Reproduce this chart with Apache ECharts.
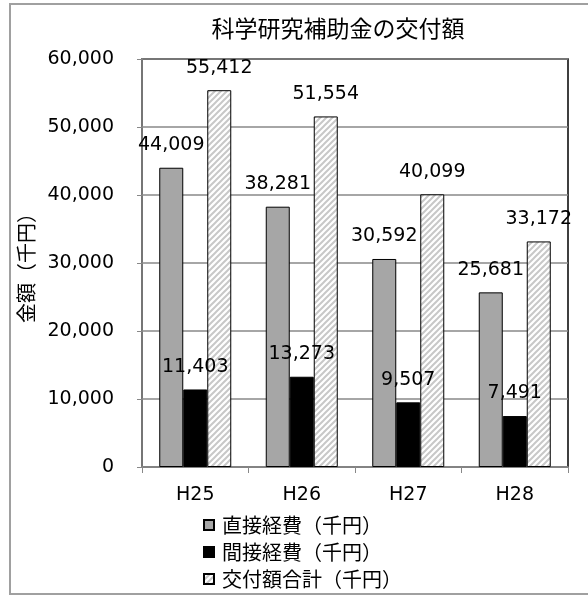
<!DOCTYPE html>
<html>
<head>
<meta charset="utf-8">
<script src="https://cdn.jsdelivr.net/npm/echarts@6/dist/echarts.min.js"></script>
<style>
html,body{margin:0;padding:0;background:#fff;}
#frame{position:absolute;left:9px;top:3px;width:600px;height:588px;border:2px solid #a0a0a0;box-sizing:content-box;}
#c{position:absolute;left:0;top:0;width:588px;height:595px;}
</style>
</head>
<body>
<div id="frame"></div>
<div id="c"></div>
<script>
const categories = ['H25', 'H26', 'H27', 'H28'];
const seriesNames = ['直接経費（千円）', '間接経費（千円）', '交付額合計（千円）'];
const directCosts = [44009, 38281, 30592, 25681];
const indirectCosts = [11403, 13273, 9507, 7491];
const totalGrants = [55412, 51554, 40099, 33172];
const yTicks = [0, 10000, 20000, 30000, 40000, 50000, 60000];

function makeHatch() {
  const c = document.createElement('canvas');
  c.width = 6; c.height = 6;
  const g = c.getContext('2d');
  g.fillStyle = '#ffffff';
  g.fillRect(0, 0, 6, 6);
  g.strokeStyle = '#c8c8c8';
  g.lineWidth = 2;
  g.beginPath();
  g.moveTo(-1, 7); g.lineTo(7, -1);
  g.moveTo(-1, 1); g.lineTo(1, -1);
  g.moveTo(5, 7); g.lineTo(7, 5);
  g.stroke();
  return c;
}
const hatch = makeHatch();

const numFont = '"DejaVu Sans", "Noto Sans CJK JP", sans-serif';
const cjkFont = '"Noto Sans CJK JP", sans-serif';
const fmt = v => v.toLocaleString('en-US');

const chart = echarts.init(document.getElementById('c'), null, {renderer: 'canvas'});
const labelCfg = {
  show: true, position: 'top', distance: 13,
  color: '#000', fontSize: 19, fontFamily: numFont,
  formatter: p => fmt(p.value)
};
chart.setOption({
  animation: false,
  backgroundColor: 'transparent',
  title: {
    text: '科学研究補助金の交付額',
    left: 333, top: 12, textAlign: 'center',
    textStyle: {fontSize: 23, fontWeight: 'normal', color: '#000', fontFamily: cjkFont}
  },
  grid: {
    left: 142, top: 59, right: 20, bottom: 128,
    show: true, borderColor: '#000', borderWidth: 1.5, backgroundColor: 'transparent'
  },
  legend: {
    orient: 'vertical', left: 203, top: 515, padding: 0,
    itemWidth: 10, itemHeight: 10, itemGap: 7,
    icon: 'rect',
    textStyle: {fontSize: 20, color: '#000', fontFamily: cjkFont, padding: [0,0,0,3]},
    data: seriesNames
  },
  xAxis: {
    type: 'category', data: categories,
    axisLine: {lineStyle: {color: '#888', width: 1.5}},
    axisTick: {show: true, length: 6, inside: false, lineStyle: {color: '#888'}},
    axisLabel: {fontSize: 19, color: '#000', fontFamily: numFont, margin: 19}
  },
  yAxis: {
    type: 'value', min: 0, max: 60000, interval: 10000,
    name: '金額（千円）', nameLocation: 'middle', nameGap: 102, nameRotate: 90,
    nameTextStyle: {fontSize: 20, color: '#000', fontFamily: cjkFont},
    axisLine: {show: true, lineStyle: {color: '#888', width: 1.5}},
    axisTick: {show: true, length: 5, lineStyle: {color: '#888'}},
    splitLine: {lineStyle: {color: '#888', width: 1.5}},
    axisLabel: {fontSize: 19, color: '#000', fontFamily: numFont, margin: 28,
      formatter: v => yTicks.includes(v) ? fmt(v) : ''}
  },
  series: [
    {name: seriesNames[0], type: 'bar', data: directCosts, barWidth: 24, barGap: '0%',
     itemStyle: {color: '#a6a6a6', borderColor: '#000', borderWidth: 1}, label: labelCfg},
    {name: seriesNames[1], type: 'bar', data: indirectCosts, barWidth: 24, barGap: '0%',
     itemStyle: {color: '#000', borderColor: '#000', borderWidth: 1}, label: labelCfg},
    {name: seriesNames[2], type: 'bar', data: totalGrants, barWidth: 24, barGap: '0%',
     itemStyle: {color: {image: hatch, repeat: 'repeat'}, borderColor: '#000', borderWidth: 1}, label: labelCfg}
  ]
});
</script>
</body>
</html>
